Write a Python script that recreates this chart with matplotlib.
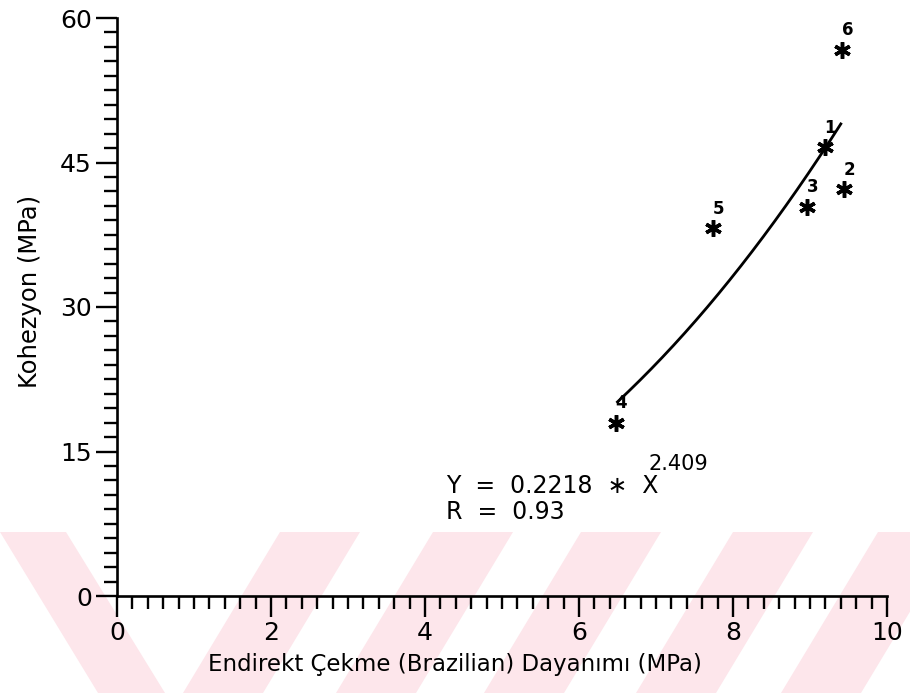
import numpy as np
import matplotlib
matplotlib.use("Agg")
import matplotlib.pyplot as plt
from matplotlib.patches import Polygon
from matplotlib.ticker import MultipleLocator

# ---- data ----
labels = ["1", "2", "3", "4", "5", "6"]
x_vals = [9.19, 9.44, 8.96, 6.48, 7.74, 9.42]   # Endirekt Çekme (MPa)
y_vals = [46.6, 42.2, 40.4, 18.0, 38.2, 56.7]   # Kohezyon (MPa)

fit_a = 0.2218
fit_b = 2.409
fit_r = 0.93
fit_xmin, fit_xmax = 6.5, 9.4

x_ticks = [0, 2, 4, 6, 8, 10]
y_ticks = [0, 15, 30, 45, 60]

# ---- figure ----
W, H = 910, 693
fig = plt.figure(figsize=(W / 100, H / 100), dpi=100)
fig.patch.set_facecolor("white")

# light pink watermark stripes (decoration, figure pixel coords)
band_top, band_bot = 532, 693
stripes = [[(0, band_top), (66, band_top), (165, band_bot), (98, band_bot)]]
for c in (255, 408, 556, 708, 853):          # stripe centres at y=640
    ct, cb = c + 65, c - 32
    stripes.append([(ct - 40, band_top), (ct + 40, band_top),
                    (cb + 40, band_bot), (cb - 40, band_bot)])
for s in stripes:
    pts = [(px / W, 1 - py / H) for px, py in s]
    fig.add_artist(Polygon(pts, closed=True, transform=fig.transFigure,
                           facecolor="#fde6eb", edgecolor="none", zorder=-5))

ax = fig.add_axes([117 / W, 1 - 596 / H, (887 - 117) / W, (596 - 18) / H])
ax.set_facecolor("none")

ax.set_xlim(0, 10)
ax.set_ylim(0, 60)
for side in ("top", "right"):
    ax.spines[side].set_visible(False)
for side in ("left", "bottom"):
    ax.spines[side].set_linewidth(1.9)
    ax.spines[side].set_color("black")

ax.set_xticks(x_ticks)
ax.set_yticks(y_ticks)
ax.xaxis.set_minor_locator(MultipleLocator(0.2))
ax.yaxis.set_minor_locator(MultipleLocator(1.5))
ax.tick_params(which="major", direction="out", length=15, width=1.7,
               labelsize=18, pad=3, color="black")
ax.tick_params(which="minor", direction="out", length=9.5, width=1.7, color="black")

xl = ax.set_xlabel("Endirekt Çekme (Brazilian) Dayanımı (MPa)", fontsize=16.5)
yl = ax.set_ylabel("Kohezyon (MPa)", fontsize=17.5)
xl.set_va("center")
yl.set_va("center")
ax.xaxis.set_label_coords((455 - 117) / 770, (596 - 665) / 578)
ax.yaxis.set_label_coords((30 - 117) / 770, (596 - 291) / 578)

# fitted curve
xf = np.linspace(fit_xmin, fit_xmax, 200)
yf = fit_a * xf ** fit_b
ax.plot(xf, yf, color="black", lw=2.0, zorder=3)

# data points
ax.plot(x_vals, y_vals, linestyle="none", marker=(6, 2, 0), markersize=12,
        mew=2.5, color="black", zorder=4, clip_on=False)
for lab, xv, yv in zip(labels, x_vals, y_vals):
    ax.annotate(lab, (xv, yv), xytext=(3.8, 14), textcoords="offset points",
                ha="center", va="center", fontsize=12, fontweight="bold")

# equation text
ax.text(4.27, 11.4, f"Y  =  {fit_a}  \u2217  X", fontsize=17, ha="left", va="center")
ax.text(6.9, 13.7, f"{fit_b}", fontsize=15, ha="left", va="center")
ax.text(4.27, 8.7, f"R  =  {fit_r}", fontsize=17, ha="left", va="center")

fig.savefig("out.png", dpi=100)
